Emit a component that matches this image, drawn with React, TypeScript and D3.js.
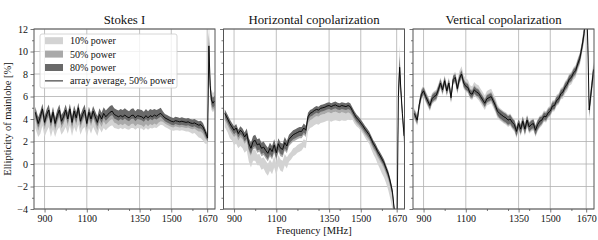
import React, { useEffect, useRef } from "react";
import * as d3 from "d3";

// frequency samples [MHz]
const freqs = [
  856, 870, 880, 890, 900, 910, 920, 930, 940, 950,
  960, 970, 980, 990, 1000, 1010, 1020, 1030, 1040, 1050,
  1060, 1070, 1080, 1090, 1100, 1110, 1120, 1130, 1140, 1150,
  1160, 1170, 1180, 1190, 1200, 1210, 1220, 1230, 1240, 1250,
  1260, 1270, 1280, 1290, 1300, 1310, 1320, 1330, 1340, 1350,
  1360, 1370, 1380, 1390, 1400, 1410, 1420, 1430, 1440, 1450,
  1460, 1470, 1480, 1490, 1500, 1510, 1520, 1530, 1540, 1550,
  1560, 1570, 1580, 1590, 1600, 1610, 1620, 1630, 1640, 1650,
  1660, 1666, 1672, 1678, 1684, 1690, 1697, 1705,
];

// Stokes I: array average (50% power) and band offsets from it
const iAvg = [
  4.6, 3.6, 4.2, 4.9, 3.7, 4.4, 4.8, 3.7, 4.6, 3.6,
  4.3, 4.8, 3.8, 4.2, 4.8, 4.0, 4.9, 3.7, 4.7, 4.1,
  5.0, 3.8, 4.4, 4.8, 3.6, 4.6, 4.0, 4.7, 4.2, 3.7,
  4.4, 4.0, 4.5, 4.2, 4.4, 4.6, 4.7, 4.4, 4.3, 4.2,
  4.3, 4.2, 4.35, 4.2, 4.1, 4.3, 4.35, 4.1, 4.3, 4.25,
  4.2, 4.05, 4.3, 4.1, 4.3, 4.2, 4.35, 4.25, 4.4, 4.5,
  4.3, 4.1, 4.0, 3.9, 3.8, 3.75, 3.85, 3.8, 3.75, 3.8,
  3.75, 3.7, 3.75, 3.65, 3.6, 3.65, 3.55, 3.45, 3.5, 3.3,
  2.9, 2.6, 2.3, 10.5, 7.0, 5.7, 5.4, 5.6,
];
const iLo80 = [
  -0.4, -0.35, -0.45, -0.4, -0.35, -0.4, -0.45, -0.35, -0.4, -0.4,
  -0.4, -0.45, -0.35, -0.4, -0.45, -0.4, -0.4, -0.35, -0.45, -0.4,
  -0.45, -0.35, -0.4, -0.45, -0.35, -0.4, -0.4, -0.45, -0.4, -0.35,
  -0.35, -0.35, -0.35, -0.35, -0.35, -0.35, -0.35, -0.35, -0.35, -0.35,
  -0.3, -0.3, -0.3, -0.3, -0.3, -0.3, -0.3, -0.3, -0.3, -0.3,
  -0.3, -0.3, -0.3, -0.3, -0.3, -0.3, -0.3, -0.3, -0.3, -0.3,
  -0.3, -0.3, -0.3, -0.3, -0.3, -0.3, -0.3, -0.3, -0.3, -0.3,
  -0.3, -0.3, -0.3, -0.3, -0.3, -0.3, -0.3, -0.3, -0.35, -0.35,
  -0.35, -0.3, -0.3, -0.8, -0.5, -0.4, -0.4, -0.4,
];
const iHi80 = [
  0.5, 0.55, 0.5, 0.45, 0.55, 0.5, 0.5, 0.55, 0.5, 0.5,
  0.5, 0.5, 0.55, 0.5, 0.5, 0.55, 0.45, 0.55, 0.5, 0.5,
  0.45, 0.55, 0.5, 0.5, 0.55, 0.5, 0.5, 0.45, 0.5, 0.55,
  0.55, 0.55, 0.55, 0.55, 0.55, 0.55, 0.55, 0.55, 0.55, 0.55,
  0.6, 0.6, 0.6, 0.6, 0.6, 0.6, 0.6, 0.6, 0.6, 0.6,
  0.6, 0.6, 0.6, 0.6, 0.6, 0.6, 0.55, 0.55, 0.5, 0.5,
  0.4, 0.35, 0.35, 0.35, 0.35, 0.35, 0.35, 0.35, 0.35, 0.35,
  0.35, 0.35, 0.35, 0.35, 0.35, 0.35, 0.35, 0.35, 0.35, 0.35,
  0.3, 0.3, 0.4, 1.2, 0.6, 0.5, 0.5, 0.5,
];
const iLo50 = [
  -0.65, -0.65, -0.65, -0.65, -0.65, -0.65, -0.65, -0.65, -0.65, -0.65,
  -0.65, -0.65, -0.65, -0.65, -0.65, -0.65, -0.65, -0.65, -0.65, -0.65,
  -0.65, -0.65, -0.65, -0.65, -0.65, -0.65, -0.65, -0.65, -0.65, -0.7,
  -0.7, -0.7, -0.7, -0.7, -0.7, -0.7, -0.7, -0.7, -0.7, -0.75,
  -0.75, -0.75, -0.75, -0.75, -0.75, -0.75, -0.75, -0.75, -0.75, -0.75,
  -0.75, -0.75, -0.75, -0.75, -0.75, -0.75, -0.75, -0.75, -0.7, -0.7,
  -0.55, -0.5, -0.5, -0.5, -0.5, -0.5, -0.5, -0.5, -0.5, -0.5,
  -0.5, -0.5, -0.5, -0.5, -0.5, -0.5, -0.55, -0.55, -0.6, -0.6,
  -0.6, -0.4, -0.4, -1.0, -0.6, -0.6, -0.6, -0.6,
];
const iHi50 = [
  0.3, 0.3, 0.3, 0.3, 0.3, 0.3, 0.3, 0.3, 0.3, 0.3,
  0.3, 0.3, 0.3, 0.3, 0.3, 0.3, 0.3, 0.3, 0.3, 0.3,
  0.3, 0.3, 0.3, 0.3, 0.3, 0.3, 0.3, 0.3, 0.3, 0.3,
  0.3, 0.3, 0.3, 0.3, 0.3, 0.3, 0.3, 0.3, 0.3, 0.3,
  0.3, 0.3, 0.3, 0.3, 0.3, 0.3, 0.3, 0.3, 0.3, 0.3,
  0.3, 0.3, 0.3, 0.3, 0.3, 0.3, 0.3, 0.3, 0.3, 0.3,
  0.2, 0.2, 0.2, 0.2, 0.2, 0.2, 0.2, 0.2, 0.2, 0.2,
  0.2, 0.2, 0.2, 0.2, 0.2, 0.2, 0.2, 0.2, 0.2, 0.2,
  0.2, 0.2, 0.3, 1.0, 0.5, 0.4, 0.4, 0.4,
];
const iLo10 = [
  -1.4, -1.2, -1.5, -1.5, -1.3, -1.5, -1.5, -1.3, -1.5, -1.2,
  -1.3, -1.5, -1.2, -1.3, -1.5, -1.3, -1.5, -1.2, -1.4, -1.3,
  -1.5, -1.2, -1.3, -1.5, -1.2, -1.4, -1.3, -1.4, -1.3, -1.2,
  -1.2, -1.2, -1.3, -1.2, -1.2, -1.25, -1.25, -1.2, -1.15, -1.1,
  -1.1, -1.1, -1.15, -1.1, -1.05, -1.1, -1.15, -1.05, -1.1, -1.1,
  -1.05, -1.05, -1.1, -1.05, -1.1, -1.05, -1.1, -1.05, -1.05, -1.0,
  -0.85, -0.8, -0.8, -0.8, -0.8, -0.8, -0.85, -0.8, -0.8, -0.8,
  -0.8, -0.8, -0.85, -0.85, -0.9, -0.9, -1.0, -1.1, -1.2, -1.2,
  -1.1, -0.8, -0.5, -1.5, -1.2, -0.9, -0.8, -0.8,
];
const iHi10 = [
  0.2, 0.2, 0.2, 0.2, 0.2, 0.2, 0.2, 0.2, 0.2, 0.2,
  0.2, 0.2, 0.2, 0.2, 0.2, 0.2, 0.2, 0.2, 0.2, 0.2,
  0.2, 0.2, 0.2, 0.2, 0.2, 0.2, 0.2, 0.2, 0.2, 0.2,
  0.2, 0.2, 0.2, 0.2, 0.2, 0.2, 0.2, 0.2, 0.2, 0.2,
  0.2, 0.2, 0.2, 0.2, 0.2, 0.2, 0.2, 0.2, 0.2, 0.2,
  0.2, 0.2, 0.2, 0.2, 0.2, 0.2, 0.2, 0.2, 0.2, 0.2,
  0.15, 0.15, 0.15, 0.15, 0.15, 0.15, 0.15, 0.15, 0.15, 0.15,
  0.15, 0.15, 0.15, 0.15, 0.15, 0.15, 0.15, 0.15, 0.15, 0.15,
  0.2, 0.3, 0.5, 3.0, 1.5, 0.9, 0.9, 0.9,
];

// Horizontal copolarization
const hAvg = [
  4.5, 4.0, 3.6, 3.3, 3.0, 3.2, 2.7, 3.0, 2.8, 2.4,
  2.7, 1.8, 1.4, 2.0, 2.1, 1.7, 1.8, 1.4, 1.5, 1.2,
  0.95, 1.4, 1.1, 1.7, 1.0, 1.8, 1.4, 1.3, 1.9, 1.6,
  2.2, 2.4, 2.6, 2.7, 2.8, 2.9, 2.9, 3.2, 3.0, 4.2,
  4.5, 4.6, 4.75, 4.85, 4.8, 4.95, 5.0, 5.05, 5.15, 5.2,
  5.1, 5.2, 5.25, 5.15, 5.1, 5.2, 5.15, 5.1, 5.2, 5.1,
  4.75, 4.4, 4.1, 3.9, 3.65, 3.4, 3.1, 2.85, 2.6, 2.2,
  1.8, 1.5, 1.1, 0.8, 0.45, 0.1, -0.4, -0.9, -1.6, -2.5,
  -4.3, -6.0, -5.0, 6.0, 8.6, 6.5, 4.5, 2.5,
];
const hLo80 = [
  -0.35, -0.35, -0.35, -0.35, -0.35, -0.35, -0.35, -0.35, -0.35, -0.4,
  -0.45, -0.5, -0.5, -0.5, -0.5, -0.5, -0.5, -0.5, -0.5, -0.5,
  -0.5, -0.5, -0.5, -0.5, -0.5, -0.5, -0.5, -0.5, -0.5, -0.45,
  -0.4, -0.4, -0.4, -0.4, -0.4, -0.4, -0.4, -0.4, -0.4, -0.35,
  -0.3, -0.3, -0.3, -0.3, -0.3, -0.3, -0.3, -0.3, -0.3, -0.3,
  -0.3, -0.3, -0.3, -0.3, -0.3, -0.3, -0.3, -0.3, -0.3, -0.3,
  -0.3, -0.3, -0.3, -0.3, -0.3, -0.3, -0.3, -0.3, -0.3, -0.3,
  -0.3, -0.3, -0.3, -0.3, -0.3, -0.3, -0.3, -0.3, -0.3, -0.3,
  -0.3, -0.3, -0.3, -0.5, -0.5, -0.4, -0.3, -0.3,
];
const hHi80 = [
  0.35, 0.35, 0.35, 0.35, 0.35, 0.35, 0.35, 0.35, 0.35, 0.4,
  0.45, 0.5, 0.5, 0.5, 0.5, 0.5, 0.5, 0.5, 0.5, 0.5,
  0.5, 0.5, 0.5, 0.5, 0.5, 0.5, 0.5, 0.5, 0.5, 0.45,
  0.4, 0.4, 0.4, 0.4, 0.4, 0.4, 0.4, 0.4, 0.4, 0.35,
  0.3, 0.3, 0.3, 0.3, 0.3, 0.3, 0.3, 0.3, 0.3, 0.3,
  0.3, 0.3, 0.3, 0.3, 0.3, 0.3, 0.3, 0.3, 0.3, 0.3,
  0.3, 0.3, 0.3, 0.3, 0.3, 0.3, 0.3, 0.3, 0.3, 0.3,
  0.3, 0.3, 0.3, 0.3, 0.3, 0.3, 0.3, 0.3, 0.3, 0.3,
  0.3, 0.3, 0.3, 1.0, 1.0, 0.5, 0.4, 0.4,
];
const hLo50 = [
  -0.6, -0.6, -0.6, -0.6, -0.6, -0.6, -0.6, -0.6, -0.6, -0.6,
  -0.65, -0.7, -0.7, -0.7, -0.7, -0.7, -0.7, -0.7, -0.7, -0.7,
  -0.7, -0.7, -0.7, -0.7, -0.7, -0.7, -0.7, -0.7, -0.7, -0.65,
  -0.6, -0.6, -0.6, -0.6, -0.6, -0.6, -0.6, -0.6, -0.6, -0.6,
  -0.6, -0.6, -0.6, -0.6, -0.6, -0.6, -0.6, -0.6, -0.6, -0.6,
  -0.6, -0.6, -0.6, -0.6, -0.6, -0.6, -0.6, -0.6, -0.6, -0.6,
  -0.5, -0.5, -0.5, -0.5, -0.5, -0.5, -0.5, -0.5, -0.5, -0.5,
  -0.5, -0.5, -0.5, -0.5, -0.5, -0.5, -0.5, -0.5, -0.5, -0.5,
  -0.6, -0.6, -0.6, -0.8, -0.8, -0.6, -0.6, -0.6,
];
const hHi50 = [
  0.15, 0.15, 0.15, 0.15, 0.15, 0.15, 0.15, 0.15, 0.15, 0.15,
  0.15, 0.15, 0.15, 0.15, 0.15, 0.15, 0.15, 0.15, 0.15, 0.15,
  0.15, 0.15, 0.15, 0.15, 0.15, 0.15, 0.15, 0.15, 0.15, 0.15,
  0.15, 0.15, 0.15, 0.15, 0.15, 0.15, 0.15, 0.15, 0.15, 0.15,
  0.15, 0.15, 0.15, 0.15, 0.15, 0.15, 0.15, 0.15, 0.15, 0.15,
  0.15, 0.15, 0.15, 0.15, 0.15, 0.15, 0.15, 0.15, 0.15, 0.15,
  0.15, 0.15, 0.15, 0.15, 0.15, 0.15, 0.15, 0.15, 0.15, 0.15,
  0.15, 0.15, 0.15, 0.15, 0.15, 0.15, 0.15, 0.15, 0.15, 0.15,
  0.15, 0.15, 0.15, 0.5, 0.5, 0.3, 0.2, 0.2,
];
const hLo10 = [
  -1.2, -1.2, -1.3, -1.2, -1.3, -1.4, -1.3, -1.4, -1.4, -1.4,
  -1.5, -1.6, -1.7, -1.7, -1.8, -1.8, -1.9, -1.9, -1.9, -2.0,
  -2.0, -2.0, -2.0, -2.0, -2.0, -2.0, -2.0, -2.0, -2.0, -2.0,
  -2.0, -2.0, -1.9, -1.9, -1.8, -1.8, -1.7, -1.7, -1.6, -1.3,
  -1.3, -1.3, -1.3, -1.3, -1.3, -1.3, -1.3, -1.3, -1.3, -1.35,
  -1.35, -1.35, -1.35, -1.3, -1.3, -1.3, -1.3, -1.25, -1.25, -1.2,
  -0.8, -0.8, -0.75, -0.7, -0.7, -0.7, -0.75, -0.8, -0.8, -0.9,
  -0.95, -1.0, -1.1, -1.2, -1.3, -1.3, -1.3, -1.4, -1.5, -1.5,
  -1.5, -1.5, -1.5, -1.5, -1.0, -1.0, -1.0, -1.0,
];
const hHi10 = [
  -0.3, -0.3, -0.35, -0.4, -0.4, -0.45, -0.5, -0.5, -0.55, -0.5,
  -0.6, -0.65, -0.7, -0.75, -0.8, -0.85, -0.9, -0.9, -0.9, -0.9,
  -0.95, -1.0, -1.0, -1.0, -1.0, -1.0, -1.0, -1.0, -1.0, -1.0,
  -1.3, -1.3, -1.2, -1.2, -1.1, -1.1, -1.0, -1.0, -0.9, -0.6,
  -0.55, -0.55, -0.55, -0.6, -0.6, -0.6, -0.6, -0.6, -0.6, -0.6,
  -0.6, -0.6, -0.6, -0.6, -0.6, -0.6, -0.55, -0.55, -0.5, -0.5,
  -0.3, -0.25, -0.2, -0.2, -0.2, -0.2, -0.2, -0.2, -0.2, -0.2,
  -0.2, -0.2, -0.2, -0.2, -0.2, -0.2, -0.2, -0.2, -0.2, -0.2,
  -0.2, -0.2, -0.2, 1.5, 2.0, 0.8, 0.6, 0.5,
];

// Vertical copolarization
const vAvg = [
  4.5, 3.9, 5.3, 6.2, 6.5, 6.0, 5.6, 5.2, 5.8, 6.0,
  6.1, 6.6, 7.2, 6.6, 7.4, 6.5, 7.2, 5.9, 7.5, 7.7,
  6.7, 7.6, 8.0, 7.2, 6.9, 6.8, 6.3, 6.2, 6.6, 6.4,
  6.3, 6.0, 5.7, 5.4, 5.8, 5.9, 6.0, 5.6, 5.2, 4.7,
  4.5, 4.35, 4.2, 4.1, 3.9, 4.0, 3.7, 3.5, 2.9, 3.6,
  3.1, 3.8, 3.1, 3.9, 3.3, 3.5, 3.6, 3.0, 3.5, 3.8,
  3.9, 4.25, 4.2, 4.55, 4.7, 5.15, 5.2, 5.65, 5.8, 6.25,
  6.4, 6.85, 7.1, 7.55, 7.7, 8.1, 8.3, 8.9, 9.4, 10.4,
  11.6, 13.0, 14.0, 10.5, 4.8, 5.8, 7.0, 8.4,
];
const vLo80 = [
  -0.3, -0.3, -0.3, -0.3, -0.3, -0.3, -0.3, -0.3, -0.3, -0.3,
  -0.3, -0.3, -0.3, -0.3, -0.3, -0.3, -0.3, -0.3, -0.3, -0.3,
  -0.3, -0.3, -0.3, -0.3, -0.3, -0.3, -0.3, -0.3, -0.3, -0.3,
  -0.3, -0.3, -0.3, -0.3, -0.3, -0.3, -0.3, -0.3, -0.35, -0.35,
  -0.4, -0.4, -0.4, -0.4, -0.4, -0.4, -0.4, -0.4, -0.4, -0.4,
  -0.4, -0.4, -0.4, -0.4, -0.4, -0.4, -0.4, -0.4, -0.4, -0.4,
  -0.3, -0.3, -0.3, -0.3, -0.3, -0.3, -0.3, -0.3, -0.3, -0.3,
  -0.3, -0.3, -0.3, -0.3, -0.3, -0.3, -0.3, -0.3, -0.35, -0.35,
  -0.4, -0.4, -0.4, -0.4, -0.4, -0.4, -0.4, -0.4,
];
const vHi80 = [
  0.3, 0.3, 0.3, 0.3, 0.3, 0.3, 0.3, 0.3, 0.3, 0.3,
  0.3, 0.3, 0.3, 0.3, 0.3, 0.3, 0.3, 0.3, 0.3, 0.3,
  0.3, 0.3, 0.3, 0.3, 0.3, 0.3, 0.3, 0.3, 0.3, 0.3,
  0.3, 0.3, 0.3, 0.3, 0.3, 0.3, 0.3, 0.3, 0.3, 0.3,
  0.35, 0.35, 0.35, 0.35, 0.35, 0.35, 0.35, 0.35, 0.35, 0.35,
  0.35, 0.35, 0.35, 0.35, 0.35, 0.35, 0.35, 0.35, 0.35, 0.35,
  0.3, 0.3, 0.3, 0.3, 0.3, 0.3, 0.3, 0.3, 0.3, 0.3,
  0.3, 0.3, 0.3, 0.3, 0.3, 0.3, 0.3, 0.3, 0.35, 0.35,
  0.4, 0.4, 0.4, 0.4, 0.4, 0.4, 0.4, 0.4,
];
const vLo50 = [
  -0.4, -0.4, -0.4, -0.4, -0.4, -0.4, -0.4, -0.4, -0.4, -0.4,
  -0.4, -0.4, -0.4, -0.4, -0.4, -0.4, -0.4, -0.4, -0.4, -0.4,
  -0.4, -0.4, -0.4, -0.4, -0.4, -0.4, -0.4, -0.4, -0.4, -0.4,
  -0.4, -0.4, -0.4, -0.4, -0.4, -0.4, -0.4, -0.4, -0.45, -0.45,
  -0.5, -0.5, -0.5, -0.5, -0.5, -0.5, -0.5, -0.5, -0.5, -0.5,
  -0.5, -0.5, -0.5, -0.5, -0.5, -0.5, -0.5, -0.5, -0.5, -0.5,
  -0.4, -0.4, -0.4, -0.4, -0.4, -0.4, -0.4, -0.4, -0.4, -0.4,
  -0.4, -0.4, -0.4, -0.4, -0.4, -0.4, -0.4, -0.4, -0.45, -0.45,
  -0.6, -0.6, -0.6, -0.6, -0.6, -0.6, -0.6, -0.6,
];
const vHi50 = [
  0.4, 0.4, 0.4, 0.4, 0.4, 0.4, 0.4, 0.4, 0.4, 0.4,
  0.4, 0.4, 0.4, 0.4, 0.4, 0.4, 0.4, 0.4, 0.4, 0.4,
  0.4, 0.4, 0.4, 0.4, 0.4, 0.4, 0.4, 0.4, 0.4, 0.4,
  0.4, 0.4, 0.4, 0.4, 0.4, 0.4, 0.4, 0.4, 0.4, 0.4,
  0.4, 0.4, 0.4, 0.4, 0.4, 0.4, 0.4, 0.4, 0.4, 0.4,
  0.4, 0.4, 0.4, 0.4, 0.4, 0.4, 0.4, 0.4, 0.4, 0.4,
  0.4, 0.4, 0.4, 0.4, 0.4, 0.4, 0.4, 0.4, 0.4, 0.4,
  0.4, 0.4, 0.4, 0.4, 0.4, 0.4, 0.4, 0.4, 0.45, 0.45,
  0.6, 0.6, 0.6, 0.6, 0.6, 0.6, 0.6, 0.6,
];
const vLo10 = [
  -0.5, -0.5, -0.5, -0.5, -0.5, -0.5, -0.5, -0.5, -0.5, -0.5,
  -0.5, -0.5, -0.5, -0.5, -0.5, -0.5, -0.5, -0.5, -0.5, -0.5,
  -0.5, -0.5, -0.5, -0.5, -0.5, -0.5, -0.5, -0.5, -0.5, -0.5,
  -0.6, -0.6, -0.6, -0.6, -0.6, -0.6, -0.6, -0.6, -0.6, -0.6,
  -0.6, -0.6, -0.6, -0.6, -0.6, -0.6, -0.6, -0.6, -0.6, -0.6,
  -0.6, -0.6, -0.6, -0.6, -0.6, -0.6, -0.6, -0.6, -0.6, -0.6,
  -0.5, -0.5, -0.5, -0.5, -0.5, -0.5, -0.5, -0.5, -0.5, -0.5,
  -0.6, -0.6, -0.6, -0.6, -0.6, -0.6, -0.6, -0.6, -0.6, -0.6,
  -0.8, -0.8, -0.8, -0.8, -0.8, -0.8, -0.8, -0.8,
];
const vHi10 = [
  0.5, 0.5, 0.5, 0.5, 0.5, 0.5, 0.5, 0.5, 0.5, 0.5,
  0.5, 0.5, 0.5, 0.5, 0.5, 0.5, 0.5, 0.5, 0.5, 0.5,
  0.7, 0.7, 0.7, 0.7, 0.7, 0.7, 0.7, 0.7, 0.7, 0.7,
  0.7, 0.7, 0.7, 0.7, 0.7, 0.7, 0.7, 0.7, 0.7, 0.6,
  0.5, 0.5, 0.5, 0.5, 0.5, 0.5, 0.5, 0.5, 0.5, 0.5,
  0.5, 0.5, 0.5, 0.5, 0.5, 0.5, 0.5, 0.5, 0.5, 0.5,
  0.5, 0.5, 0.5, 0.5, 0.5, 0.5, 0.5, 0.5, 0.5, 0.5,
  0.5, 0.5, 0.5, 0.5, 0.5, 0.5, 0.5, 0.5, 0.5, 0.5,
  0.8, 0.8, 0.8, 0.8, 0.8, 0.8, 0.8, 0.8,
];

const titles = ["Stokes I", "Horizontal copolarization", "Vertical copolarization"];
const xTicks = [900, 1100, 1350, 1500, 1670];
const xMinor = [1000, 1200, 1300, 1400, 1600];
const yTicks = [-4, -2, 0, 2, 4, 6, 8, 10, 12];
const yMinor = [-3, -1, 1, 3, 5, 7, 9, 11];
const legendLabels = ["10% power", "50% power", "80% power", "array average, 50% power"];

const width = 598, height = 240;
const top = 29, bottom = 209;
const panelX = [34, 223.5, 413];
const panelW = 181;
const font = "Liberation Serif, DejaVu Serif, serif";
const bandColors = ["#d3d3d3", "#a9a9a9", "#696969"];
const spineColor = "#555";

export default function App() {
  const ref = useRef<SVGSVGElement>(null);

  useEffect(() => {
    const svg = d3.select(ref.current);
    svg.selectAll("*").remove();

    const panels = [
      { avg: iAvg, bands: [[iLo10, iHi10], [iLo50, iHi50], [iLo80, iHi80]] },
      { avg: hAvg, bands: [[hLo10, hHi10], [hLo50, hHi50], [hLo80, hHi80]] },
      { avg: vAvg, bands: [[vLo10, vHi10], [vLo50, vHi50], [vLo80, vHi80]] },
    ];

    const y = d3.scaleLinear().domain([-4, 12]).range([bottom, top]);
    const minus = (d: number) => (d < 0 ? "\u2212" + Math.abs(d) : String(d));

    panels.forEach((p, k) => {
      const x0 = panelX[k];
      const x = d3.scaleLinear().domain([850, 1707]).range([x0, x0 + panelW]);
      const g = svg.append("g");

      // grid
      g.append("g").selectAll("line").data(xTicks).join("line")
        .attr("x1", d => x(d)).attr("x2", d => x(d))
        .attr("y1", top).attr("y2", bottom)
        .attr("stroke", "#b0b0b0").attr("stroke-width", 0.8);
      g.append("g").selectAll("line").data(yTicks).join("line")
        .attr("x1", x0).attr("x2", x0 + panelW)
        .attr("y1", d => y(d)).attr("y2", d => y(d))
        .attr("stroke", "#b0b0b0").attr("stroke-width", 0.8);

      svg.append("clipPath").attr("id", "clip" + k)
        .append("rect").attr("x", x0).attr("y", top)
        .attr("width", panelW).attr("height", bottom - top);
      const plot = g.append("g").attr("clip-path", `url(#clip${k})`);

      p.bands.forEach(([lo, hi], b) => {
        const area = d3.area<number>()
          .x((_, i) => x(freqs[i]))
          .y0((v, i) => y(v + lo[i]))
          .y1((v, i) => y(v + hi[i]));
        plot.append("path").datum(p.avg).attr("d", area).attr("fill", bandColors[b]);
      });

      const line = d3.line<number>()
        .x((_, i) => x(freqs[i]))
        .y(v => y(v));
      plot.append("path").datum(p.avg).attr("d", line)
        .attr("fill", "none").attr("stroke", "#000").attr("stroke-width", 0.9);

      // axes
      const gx = g.append("g").attr("transform", `translate(0,${bottom})`)
        .call(d3.axisBottom(x).tickValues(xTicks).tickSize(3.5).tickPadding(2.5)
          .tickSizeOuter(0).tickFormat(d => String(d)));
      g.append("g").attr("transform", `translate(0,${bottom})`)
        .call(d3.axisBottom(x).tickValues(xMinor).tickSize(2).tickFormat(() => "").tickSizeOuter(0));
      const gy = g.append("g").attr("transform", `translate(${x0},0)`)
        .call(d3.axisLeft(y).tickValues(yTicks).tickSize(3.5).tickPadding(2.5).tickSizeOuter(0)
          .tickFormat(d => (k === 0 ? minus(d as number) : "")));
      g.append("g").attr("transform", `translate(${x0},0)`)
        .call(d3.axisLeft(y).tickValues(yMinor).tickSize(2).tickFormat(() => "").tickSizeOuter(0));

      g.selectAll(".domain").remove();
      g.selectAll(".tick line").attr("stroke", spineColor).attr("stroke-width", 0.8);
      [gx, gy].forEach(a => a.selectAll("text")
        .style("font-family", font).style("font-size", "10px").attr("fill", "#111"));

      // spines
      g.append("rect").attr("x", x0).attr("y", top)
        .attr("width", panelW).attr("height", bottom - top)
        .attr("fill", "none").attr("stroke", spineColor).attr("stroke-width", 1);

      g.append("text").attr("x", x0 + panelW / 2).attr("y", 24)
        .attr("text-anchor", "middle").style("font-family", font).style("font-size", "12.8px")
        .attr("fill", "#111").text(titles[k]);
    });

    // axis labels
    svg.append("text").attr("x", panelX[1] + panelW / 2).attr("y", 234)
      .attr("text-anchor", "middle").style("font-family", font).style("font-size", "10.5px")
      .attr("fill", "#111").text("Frequency [MHz]");
    svg.append("text").attr("transform", `translate(10.5,${(top + bottom) / 2}) rotate(-90)`)
      .attr("text-anchor", "middle").style("font-family", font).style("font-size", "10.5px")
      .attr("fill", "#111").text("Ellipticity of mainlobe [%]");

    // legend
    const lg = svg.append("g");
    lg.append("rect").attr("x", 40).attr("y", 34).attr("width", 137).attr("height", 54)
      .attr("rx", 2).attr("fill", "#fff").attr("fill-opacity", 0.8)
      .attr("stroke", "#ccc").attr("stroke-width", 0.8);
    legendLabels.forEach((label, i) => {
      const cy = 40.7 + i * 13.4;
      if (i < 3) {
        lg.append("rect").attr("x", 45).attr("y", cy - 3.5).attr("width", 18).attr("height", 7)
          .attr("fill", bandColors[i]);
      } else {
        lg.append("line").attr("x1", 45).attr("x2", 63).attr("y1", cy).attr("y2", cy)
          .attr("stroke", "#000").attr("stroke-width", 0.9);
      }
      lg.append("text").attr("x", 70).attr("y", cy + 3.4)
        .style("font-family", font).style("font-size", "10px").attr("fill", "#111").text(label);
    });
  }, []);

  return (
    <svg ref={ref} width={width} height={height}
      style={{ position: "absolute", left: 0, top: 0, background: "#fff" }} />
  );
}
